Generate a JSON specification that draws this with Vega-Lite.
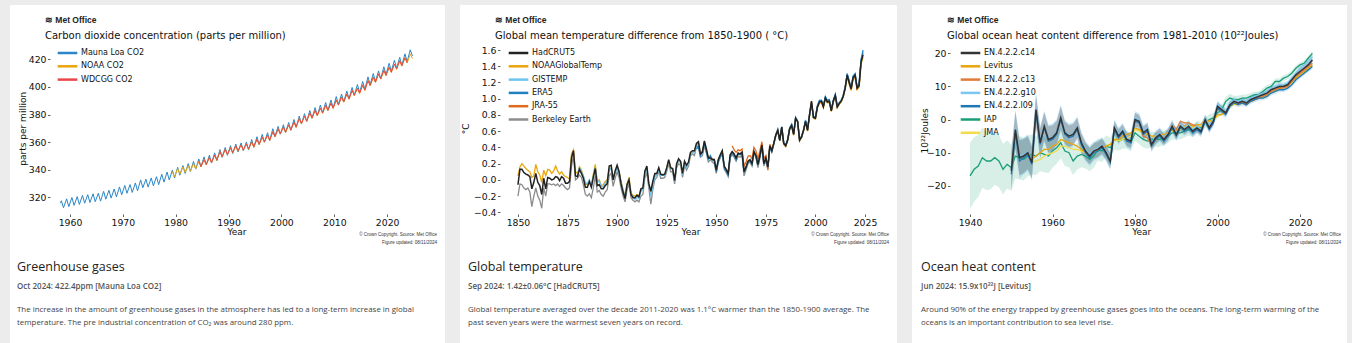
{
"$schema": "https://vega.github.io/schema/vega-lite/v6.json",
"background": "#ececec",
"padding": {"left": 10, "top": 5, "right": 5, "bottom": 0},
"bounds": "flush",
"spacing": 15,
"resolve": {"scale": {"color": "independent"}, "legend": {"color": "independent"}},
"datasets": {
"co2": [
{"x":1958.2,"M":315.7},{"x":1958.37,"M":317.5},{"x":1958.78,"M":312.4},
{"x":1959.37,"M":318.9},{"x":1959.78,"M":313.2},{"x":1960.37,"M":319.8},{"x":1960.78,"M":314.1},
{"x":1961.37,"M":320.5},{"x":1961.78,"M":314.8},{"x":1962.37,"M":321.4},{"x":1962.78,"M":315.7},
{"x":1963.37,"M":321.9},{"x":1963.78,"M":316.2},{"x":1964.37,"M":322.5},{"x":1964.78,"M":316.8},
{"x":1965.37,"M":322.9},{"x":1965.78,"M":317.2},{"x":1966.37,"M":324.3},{"x":1966.78,"M":318.6},
{"x":1967.37,"M":325.1},{"x":1967.78,"M":319.4},{"x":1968.37,"M":326.0},{"x":1968.78,"M":320.3},
{"x":1969.37,"M":327.5},{"x":1969.78,"M":321.8},{"x":1970.37,"M":328.6},{"x":1970.78,"M":322.9},
{"x":1971.37,"M":329.2},{"x":1971.78,"M":323.5},{"x":1972.37,"M":330.4},{"x":1972.78,"M":324.7},
{"x":1973.37,"M":332.6},{"x":1973.78,"M":326.9},{"x":1974.37,"M":333.1},{"x":1974.78,"M":327.4},
{"x":1975.37,"M":334.0},{"x":1975.78,"M":328.3},{"x":1976.37,"M":334.9},{"x":1976.78,"M":329.2},
{"x":1977.37,"M":336.7},{"x":1977.78,"M":331.0},{"x":1978.37,"M":338.3},{"x":1978.78,"M":332.6},
{"x":1979.37,"M":339.7,"N":338.7},{"x":1979.78,"M":334.0,"N":334.8},
{"x":1980.37,"M":341.7,"N":340.8},{"x":1980.78,"M":336.0,"N":336.9},
{"x":1981.37,"M":343.0,"N":342.0},{"x":1981.78,"M":337.3,"N":338.1},
{"x":1982.37,"M":344.4,"N":342.8},{"x":1982.78,"M":338.7,"N":338.9},
{"x":1983.37,"M":346.0,"N":344.4},{"x":1983.78,"M":340.4,"N":340.5},
{"x":1984.37,"M":347.8,"N":346.0,"W":345.9},{"x":1984.78,"M":342.1,"N":342.1,"W":342.4},
{"x":1985.37,"M":349.3,"N":347.4,"W":347.3},{"x":1985.78,"M":343.6,"N":343.5,"W":343.8},
{"x":1986.37,"M":350.5,"N":348.9,"W":348.8},{"x":1986.78,"M":344.8,"N":345.0,"W":345.3},
{"x":1987.37,"M":352.2,"N":350.6,"W":350.5},{"x":1987.78,"M":346.5,"N":346.7,"W":347.0},
{"x":1988.37,"M":354.6,"N":353.1,"W":353.0},{"x":1988.78,"M":348.9,"N":349.2,"W":349.5},
{"x":1989.37,"M":356.1,"N":354.7,"W":354.6},{"x":1989.78,"M":350.4,"N":350.8,"W":351.1},
{"x":1990.37,"M":357.4,"N":356.0,"W":355.9},{"x":1990.78,"M":351.7,"N":352.1,"W":352.4},
{"x":1991.37,"M":358.6,"N":357.3,"W":357.2},{"x":1991.78,"M":352.9,"N":353.4,"W":353.7},
{"x":1992.37,"M":359.4,"N":358.0,"W":357.9},{"x":1992.78,"M":353.7,"N":354.1,"W":354.4},
{"x":1993.37,"M":360.1,"N":358.7,"W":358.6},{"x":1993.78,"M":354.4,"N":354.8,"W":355.1},
{"x":1994.37,"M":361.9,"N":360.2,"W":360.1},{"x":1994.78,"M":356.2,"N":356.3,"W":356.6},
{"x":1995.37,"M":363.9,"N":362.1,"W":362.0},{"x":1995.78,"M":358.2,"N":358.2,"W":358.5},
{"x":1996.37,"M":365.6,"N":363.8,"W":363.7},{"x":1996.78,"M":359.9,"N":359.9,"W":360.2},
{"x":1997.37,"M":366.8,"N":365.0,"W":364.9},{"x":1997.78,"M":361.1,"N":361.1,"W":361.4},
{"x":1998.37,"M":369.7,"N":367.6,"W":367.5},{"x":1998.78,"M":364.0,"N":363.7,"W":364.0},
{"x":1999.37,"M":371.4,"N":369.7,"W":369.6},{"x":1999.78,"M":365.7,"N":365.8,"W":366.1},
{"x":2000.37,"M":372.6,"N":370.9,"W":370.8},{"x":2000.78,"M":366.9,"N":367.0,"W":367.3},
{"x":2001.37,"M":374.2,"N":372.5,"W":372.4},{"x":2001.78,"M":368.5,"N":368.6,"W":368.9},
{"x":2002.37,"M":376.4,"N":374.5,"W":374.4},{"x":2002.78,"M":370.7,"N":370.6,"W":370.9},
{"x":2003.37,"M":378.9,"N":377.1,"W":377.0},{"x":2003.78,"M":373.2,"N":373.2,"W":373.5},
{"x":2004.37,"M":380.6,"N":378.9,"W":378.8},{"x":2004.78,"M":374.9,"N":375.0,"W":375.3},
{"x":2005.37,"M":382.9,"N":381.2,"W":381.1},{"x":2005.78,"M":377.2,"N":377.3,"W":377.6},
{"x":2006.37,"M":385.0,"N":383.0,"W":382.9},{"x":2006.78,"M":379.3,"N":379.1,"W":379.4},
{"x":2007.37,"M":386.9,"N":384.7,"W":384.6},{"x":2007.78,"M":381.2,"N":380.8,"W":381.1},
{"x":2008.37,"M":388.7,"N":386.7,"W":386.6},{"x":2008.78,"M":383.0,"N":382.8,"W":383.1},
{"x":2009.37,"M":390.5,"N":388.2,"W":388.1},{"x":2009.78,"M":384.8,"N":384.3,"W":384.6},
{"x":2010.37,"M":393.0,"N":390.6,"W":390.5},{"x":2010.78,"M":387.3,"N":386.7,"W":387.0},
{"x":2011.37,"M":394.8,"N":392.8,"W":392.7},{"x":2011.78,"M":389.1,"N":388.9,"W":389.2},
{"x":2012.37,"M":397.0,"N":394.9,"W":394.8},{"x":2012.78,"M":391.3,"N":391.0,"W":391.3},
{"x":2013.37,"M":399.6,"N":397.6,"W":397.5},{"x":2013.78,"M":393.9,"N":393.7,"W":394.0},
{"x":2014.37,"M":401.7,"N":399.1,"W":399.0},{"x":2014.78,"M":396.0,"N":395.2,"W":395.5},
{"x":2015.37,"M":403.9,"N":401.3,"W":401.2},{"x":2015.78,"M":398.2,"N":397.4,"W":397.7},
{"x":2016.37,"M":407.3,"N":404.7,"W":404.6},{"x":2016.78,"M":401.6,"N":400.8,"W":401.1},
{"x":2017.37,"M":409.7,"N":407.1,"W":407.0},{"x":2017.78,"M":404.0,"N":403.2,"W":403.5},
{"x":2018.37,"M":411.6,"N":409.5,"W":409.4},{"x":2018.78,"M":405.9,"N":405.6,"W":405.9},
{"x":2019.37,"M":414.6,"N":412.0,"W":411.9},{"x":2019.78,"M":408.9,"N":408.1,"W":408.4},
{"x":2020.37,"M":417.1,"N":414.3,"W":414.2},{"x":2020.78,"M":411.4,"N":410.4,"W":410.7},
{"x":2021.37,"M":419.3,"N":416.6,"W":416.5},{"x":2021.78,"M":413.6,"N":412.7,"W":413.0},
{"x":2022.37,"M":421.4,"N":419.0,"W":418.9},{"x":2022.78,"M":415.7,"N":415.1,"W":415.4},
{"x":2023.37,"M":424.0,"N":421.2,"W":421.1},{"x":2023.78,"M":418.3,"N":417.3,"W":417.6},
{"x":2024.37,"M":426.9,"N":423.9},{"x":2024.78,"M":422.4,"N":420.5}
],
"temp": [
{"x":1850,"H":-0.06,"N":0.05,"B":-0.2},{"x":1851,"H":0.13,"N":0.16,"B":-0.05},{"x":1852,"H":0.13,"N":0.2,"B":-0.06},
{"x":1853,"H":0.09,"N":0.17,"B":-0.1},{"x":1854,"H":0.07,"N":0.14,"B":-0.12},{"x":1855,"H":0.06,"N":0.12,"B":-0.1},
{"x":1856,"H":0.04,"N":0.1,"B":-0.15},{"x":1857,"H":-0.11,"N":0.03,"B":-0.33},{"x":1858,"H":-0.03,"N":0.05,"B":-0.2},
{"x":1859,"H":0.08,"N":0.19,"B":-0.1},{"x":1860,"H":-0.03,"N":0.1,"B":-0.2},{"x":1861,"H":-0.07,"N":0.06,"B":-0.25},
{"x":1862,"H":-0.18,"N":-0.03,"B":-0.35},{"x":1863,"H":0.02,"N":0.12,"B":-0.1},{"x":1864,"H":-0.11,"N":0.05,"B":-0.2},
{"x":1865,"H":0.03,"N":0.13,"B":-0.05},{"x":1866,"H":0.02,"N":0.12,"B":-0.05},{"x":1867,"H":0.0,"N":0.08,"B":-0.06},
{"x":1868,"H":0.01,"N":0.11,"B":-0.05},{"x":1869,"H":0.04,"N":0.17,"B":-0.07},{"x":1870,"H":0.03,"N":0.11,"B":-0.05},
{"x":1871,"H":-0.01,"N":0.07,"B":-0.08},{"x":1872,"H":0.04,"N":0.1,"B":-0.05},{"x":1873,"H":0.02,"N":0.06,"B":-0.07},
{"x":1874,"H":-0.04,"N":0.04,"B":-0.1},{"x":1875,"H":-0.04,"N":0.03,"B":-0.12},{"x":1876,"H":-0.02,"N":0.01,"B":-0.1},
{"x":1877,"H":0.27,"N":0.32,"B":0.17},{"x":1878,"H":0.36,"N":0.37,"B":0.3},{"x":1879,"H":0.05,"N":0.1,"B":0.0},
{"x":1880,"H":0.04,"N":0.08,"G":0.06,"B":0.02},{"x":1881,"H":0.13,"N":0.16,"G":0.15,"B":0.06},
{"x":1882,"H":0.08,"N":0.12,"G":0.1,"B":0.03},{"x":1883,"H":0.02,"N":0.04,"G":0.05,"B":-0.06},
{"x":1884,"H":-0.09,"N":-0.05,"G":-0.03,"B":-0.18},{"x":1885,"H":-0.09,"N":-0.06,"G":-0.05,"B":-0.2},
{"x":1886,"H":-0.02,"N":-0.01,"G":0.0,"B":-0.17},{"x":1887,"H":-0.09,"N":-0.06,"G":-0.08,"B":-0.22},
{"x":1888,"H":0.03,"N":0.07,"G":0.05,"B":-0.1},{"x":1889,"H":0.14,"N":0.19,"G":0.15,"B":0.05},
{"x":1890,"H":-0.07,"N":-0.02,"G":-0.03,"B":-0.15},{"x":1891,"H":-0.06,"N":0.0,"G":-0.01,"B":-0.13},
{"x":1892,"H":-0.11,"N":-0.07,"G":-0.08,"B":-0.18},{"x":1893,"H":-0.11,"N":-0.06,"G":-0.09,"B":-0.2},
{"x":1894,"H":-0.07,"N":-0.02,"G":-0.04,"B":-0.15},{"x":1895,"H":-0.05,"N":0.0,"G":-0.02,"B":-0.12},
{"x":1896,"H":0.17,"N":0.12,"G":0.12,"B":0.05},{"x":1897,"H":0.18,"N":0.15,"G":0.14,"B":0.08},
{"x":1898,"H":0.0,"N":0.02,"G":0.01,"B":-0.08},{"x":1899,"H":0.11,"N":0.09,"G":0.08,"B":0.02},
{"x":1900,"H":0.18,"N":0.16,"G":0.14,"B":0.1},{"x":1901,"H":0.1,"N":0.1,"G":0.08,"B":0.03},
{"x":1902,"H":-0.05,"N":-0.02,"G":-0.03,"B":-0.1},{"x":1903,"H":-0.15,"N":-0.12,"G":-0.13,"B":-0.2},
{"x":1904,"H":-0.23,"N":-0.2,"G":-0.21,"B":-0.27},{"x":1905,"H":-0.06,"N":-0.05,"G":-0.06,"B":-0.12},
{"x":1906,"H":0.0,"N":0.03,"G":0.0,"B":-0.05},{"x":1907,"H":-0.18,"N":-0.16,"G":-0.18,"B":-0.22},
{"x":1908,"H":-0.22,"N":-0.19,"G":-0.2,"B":-0.25},{"x":1909,"H":-0.22,"N":-0.2,"G":-0.24,"B":-0.27},
{"x":1910,"H":-0.19,"N":-0.18,"G":-0.22,"B":-0.25},{"x":1911,"H":-0.21,"N":-0.2,"G":-0.23,"B":-0.27},
{"x":1912,"H":-0.11,"N":-0.12,"G":-0.14,"B":-0.2},{"x":1913,"H":-0.1,"N":-0.11,"G":-0.12,"B":-0.18},
{"x":1914,"H":0.11,"N":0.08,"G":0.07,"B":0.03},{"x":1915,"H":0.17,"N":0.14,"G":0.12,"B":0.08},
{"x":1916,"H":-0.05,"N":-0.06,"G":-0.06,"B":-0.1},{"x":1917,"H":-0.14,"N":-0.15,"G":-0.2,"B":-0.3},
{"x":1918,"H":-0.02,"N":-0.04,"G":-0.08,"B":-0.12},{"x":1919,"H":0.08,"N":0.06,"G":0.04,"B":0.0},
{"x":1920,"H":0.08,"N":0.07,"G":0.06,"B":0.03},{"x":1921,"H":0.15,"N":0.13,"G":0.12,"B":0.1},
{"x":1922,"H":0.07,"N":0.06,"G":0.05,"B":0.02},{"x":1923,"H":0.06,"N":0.06,"G":0.07,"B":0.02},
{"x":1924,"H":0.07,"N":0.05,"G":0.05,"B":0.03},{"x":1925,"H":0.15,"N":0.13,"G":0.13,"B":0.1},
{"x":1926,"H":0.25,"N":0.22,"G":0.24,"B":0.2},{"x":1927,"H":0.15,"N":0.14,"G":0.14,"B":0.1},
{"x":1928,"H":0.14,"N":0.13,"G":0.13,"B":0.1},{"x":1929,"H":-0.01,"N":0.0,"G":-0.02,"B":-0.05},
{"x":1930,"H":0.2,"N":0.18,"G":0.18,"B":0.15},{"x":1931,"H":0.26,"N":0.24,"G":0.24,"B":0.2},
{"x":1932,"H":0.23,"N":0.22,"G":0.21,"B":0.18},{"x":1933,"H":0.08,"N":0.07,"G":0.06,"B":0.03},
{"x":1934,"H":0.23,"N":0.21,"G":0.21,"B":0.18},{"x":1935,"H":0.18,"N":0.17,"G":0.15,"B":0.12},
{"x":1936,"H":0.22,"N":0.2,"G":0.2,"B":0.17},{"x":1937,"H":0.34,"N":0.32,"G":0.32,"B":0.3},
{"x":1938,"H":0.36,"N":0.34,"G":0.33,"B":0.32},{"x":1939,"H":0.36,"N":0.35,"G":0.34,"B":0.3},
{"x":1940,"H":0.45,"N":0.43,"G":0.42,"E":0.38,"B":0.42},{"x":1941,"H":0.47,"N":0.46,"G":0.44,"E":0.41,"B":0.4},
{"x":1942,"H":0.32,"N":0.32,"G":0.3,"E":0.3,"B":0.28},{"x":1943,"H":0.34,"N":0.35,"G":0.33,"E":0.36,"B":0.3},
{"x":1944,"H":0.48,"N":0.47,"G":0.45,"E":0.45,"B":0.42},{"x":1945,"H":0.38,"N":0.37,"G":0.36,"E":0.35,"B":0.33},
{"x":1946,"H":0.27,"N":0.27,"G":0.25,"E":0.26,"B":0.22},{"x":1947,"H":0.27,"N":0.28,"G":0.28,"E":0.3,"B":0.25},
{"x":1948,"H":0.25,"N":0.26,"G":0.24,"E":0.25,"B":0.22},{"x":1949,"H":0.25,"N":0.25,"G":0.23,"E":0.24,"B":0.2},
{"x":1950,"H":0.12,"N":0.11,"G":0.11,"E":0.1,"B":0.08},{"x":1951,"H":0.25,"N":0.24,"G":0.24,"E":0.24,"B":0.21},
{"x":1952,"H":0.31,"N":0.3,"G":0.3,"E":0.29,"B":0.27},{"x":1953,"H":0.36,"N":0.35,"G":0.35,"E":0.34,"B":0.32},
{"x":1954,"H":0.17,"N":0.16,"G":0.16,"E":0.15,"B":0.13},{"x":1955,"H":0.13,"N":0.12,"G":0.12,"E":0.11,"B":0.09},
{"x":1956,"H":0.08,"N":0.08,"G":0.07,"E":0.06,"B":0.04},{"x":1957,"H":0.31,"N":0.3,"G":0.3,"E":0.29,"B":0.27},
{"x":1958,"H":0.35,"N":0.34,"G":0.34,"E":0.33,"J":0.42,"B":0.31},{"x":1959,"H":0.32,"N":0.31,"G":0.31,"E":0.3,"J":0.37,"B":0.28},
{"x":1960,"H":0.27,"N":0.26,"G":0.26,"E":0.25,"J":0.34,"B":0.23},{"x":1961,"H":0.33,"N":0.32,"G":0.32,"E":0.32,"J":0.37,"B":0.29},
{"x":1962,"H":0.32,"N":0.31,"G":0.31,"E":0.31,"J":0.36,"B":0.28},{"x":1963,"H":0.34,"N":0.34,"G":0.33,"E":0.33,"J":0.38,"B":0.3},
{"x":1964,"H":0.1,"N":0.1,"G":0.09,"E":0.09,"J":0.17,"B":0.05},{"x":1965,"H":0.16,"N":0.15,"G":0.15,"E":0.15,"J":0.22,"B":0.12},
{"x":1966,"H":0.23,"N":0.22,"G":0.22,"E":0.22,"J":0.29,"B":0.2},{"x":1967,"H":0.25,"N":0.24,"G":0.24,"E":0.24,"J":0.3,"B":0.22},
{"x":1968,"H":0.2,"N":0.19,"G":0.19,"E":0.19,"J":0.26,"B":0.17},{"x":1969,"H":0.35,"N":0.34,"G":0.34,"E":0.34,"J":0.4,"B":0.33},
{"x":1970,"H":0.3,"N":0.29,"G":0.29,"E":0.29,"J":0.36,"B":0.27},{"x":1971,"H":0.19,"N":0.18,"G":0.18,"E":0.18,"J":0.26,"B":0.15},
{"x":1972,"H":0.3,"N":0.29,"G":0.29,"E":0.29,"J":0.36,"B":0.27},{"x":1973,"H":0.43,"N":0.42,"G":0.42,"E":0.42,"J":0.47,"B":0.41},
{"x":1974,"H":0.2,"N":0.19,"G":0.19,"E":0.19,"J":0.26,"B":0.17},{"x":1975,"H":0.27,"N":0.26,"G":0.26,"E":0.26,"J":0.3,"B":0.24},
{"x":1976,"H":0.16,"N":0.15,"G":0.15,"E":0.15,"J":0.12,"B":0.13},{"x":1977,"H":0.42,"N":0.41,"G":0.41,"E":0.41,"J":0.44,"B":0.4},
{"x":1978,"H":0.36,"N":0.35,"G":0.35,"E":0.35,"J":0.37,"B":0.34},{"x":1979,"H":0.45,"N":0.44,"G":0.44,"E":0.45,"J":0.46,"B":0.44},
{"x":1980,"H":0.55,"N":0.54,"G":0.56,"E":0.56,"J":0.55,"B":0.55},{"x":1981,"H":0.61,"N":0.6,"G":0.63,"E":0.6,"J":0.61,"B":0.62},
{"x":1982,"H":0.49,"N":0.48,"G":0.49,"E":0.48,"J":0.49,"B":0.48},{"x":1983,"H":0.65,"N":0.64,"G":0.66,"E":0.65,"J":0.65,"B":0.65},
{"x":1984,"H":0.45,"N":0.44,"G":0.46,"E":0.46,"J":0.45,"B":0.45},{"x":1985,"H":0.42,"N":0.41,"G":0.42,"E":0.43,"J":0.42,"B":0.42},
{"x":1986,"H":0.49,"N":0.48,"G":0.5,"E":0.5,"J":0.49,"B":0.49},{"x":1987,"H":0.63,"N":0.62,"G":0.64,"E":0.64,"J":0.63,"B":0.64},
{"x":1988,"H":0.67,"N":0.66,"G":0.69,"E":0.68,"J":0.67,"B":0.68},{"x":1989,"H":0.56,"N":0.55,"G":0.57,"E":0.57,"J":0.56,"B":0.57},
{"x":1990,"H":0.76,"N":0.75,"G":0.77,"E":0.76,"J":0.76,"B":0.77},{"x":1991,"H":0.72,"N":0.71,"G":0.73,"E":0.72,"J":0.72,"B":0.72},
{"x":1992,"H":0.49,"N":0.48,"G":0.5,"E":0.49,"J":0.5,"B":0.5},{"x":1993,"H":0.53,"N":0.52,"G":0.54,"E":0.53,"J":0.53,"B":0.54},
{"x":1994,"H":0.61,"N":0.6,"G":0.62,"E":0.61,"J":0.61,"B":0.62},{"x":1995,"H":0.72,"N":0.71,"G":0.74,"E":0.73,"J":0.72,"B":0.73},
{"x":1996,"H":0.61,"N":0.6,"G":0.62,"E":0.62,"J":0.61,"B":0.62},{"x":1997,"H":0.8,"N":0.78,"G":0.8,"E":0.79,"J":0.8,"B":0.8},
{"x":1998,"H":0.97,"N":0.95,"G":0.95,"E":0.94,"J":0.96,"B":0.96},{"x":1999,"H":0.77,"N":0.76,"G":0.77,"E":0.78,"J":0.77,"B":0.77},
{"x":2000,"H":0.76,"N":0.75,"G":0.77,"E":0.78,"J":0.76,"B":0.77},{"x":2001,"H":0.9,"N":0.89,"G":0.91,"E":0.91,"J":0.9,"B":0.91},
{"x":2002,"H":0.96,"N":0.94,"G":0.98,"E":0.98,"J":0.96,"B":0.97},{"x":2003,"H":0.97,"N":0.96,"G":0.98,"E":0.98,"J":0.97,"B":0.98},
{"x":2004,"H":0.9,"N":0.89,"G":0.92,"E":0.91,"J":0.9,"B":0.91},{"x":2005,"H":1.01,"N":1.0,"G":1.03,"E":1.02,"J":1.01,"B":1.02},
{"x":2006,"H":0.96,"N":0.95,"G":0.98,"E":0.98,"J":0.96,"B":0.97},{"x":2007,"H":0.97,"N":0.95,"G":0.99,"E":0.99,"J":0.97,"B":0.98},
{"x":2008,"H":0.85,"N":0.84,"G":0.86,"E":0.87,"J":0.85,"B":0.86},{"x":2009,"H":0.97,"N":0.96,"G":0.98,"E":0.98,"J":0.97,"B":0.98},
{"x":2010,"H":1.04,"N":1.03,"G":1.05,"E":1.05,"J":1.04,"B":1.05},{"x":2011,"H":0.9,"N":0.89,"G":0.91,"E":0.91,"J":0.9,"B":0.91},
{"x":2012,"H":0.94,"N":0.93,"G":0.95,"E":0.95,"J":0.94,"B":0.95},{"x":2013,"H":0.97,"N":0.96,"G":0.98,"E":0.98,"J":0.97,"B":0.98},
{"x":2014,"H":1.03,"N":1.02,"G":1.04,"E":1.03,"J":1.03,"B":1.04},{"x":2015,"H":1.13,"N":1.12,"G":1.15,"E":1.14,"J":1.13,"B":1.15},
{"x":2016,"H":1.29,"N":1.27,"G":1.31,"E":1.31,"J":1.29,"B":1.3},{"x":2017,"H":1.2,"N":1.18,"G":1.22,"E":1.22,"J":1.2,"B":1.21},
{"x":2018,"H":1.12,"N":1.1,"G":1.13,"E":1.14,"J":1.12,"B":1.13},{"x":2019,"H":1.26,"N":1.24,"G":1.28,"E":1.28,"J":1.26,"B":1.27},
{"x":2020,"H":1.29,"N":1.26,"G":1.3,"E":1.31,"J":1.28,"B":1.3},{"x":2021,"H":1.13,"N":1.11,"G":1.14,"E":1.15,"J":1.13,"B":1.14},
{"x":2022,"H":1.16,"N":1.14,"G":1.17,"E":1.18,"J":1.16,"B":1.17},{"x":2023,"H":1.45,"N":1.43,"G":1.47,"E":1.48,"J":1.46,"B":1.48},
{"x":2024,"H":1.54,"N":1.51,"G":1.56,"E":1.6,"B":1.57}
],
"ohc": [
{"x":1940,"iap":-17,"iL":-27,"iH":-7},{"x":1941,"iap":-15,"iL":-24.7,"iH":-5.3},{"x":1942,"iap":-14,"iL":-23.4,"iH":-4.6},
{"x":1943,"iap":-11.5,"iL":-20.6,"iH":-2.4},{"x":1944,"iap":-12.5,"iL":-21.3,"iH":-3.7},{"x":1945,"iap":-12.5,"iL":-21,"iH":-4},
{"x":1946,"iap":-11.5,"iL":-19.7,"iH":-3.3},{"x":1947,"iap":-12.5,"iL":-20.4,"iH":-4.6},{"x":1948,"iap":-15,"iL":-22.6,"iH":-7.4},
{"x":1949,"iap":-13.5,"iL":-20.8,"iH":-6.2},
{"x":1950,"iap":-14.5,"iL":-21.5,"iH":-7.5,"c14":-15.5,"eL":-21,"eH":-10,"bL":-22,"bH":-9.5,"l09":-16.5,"g10":-15,"c13":-15},
{"x":1951,"iap":-11,"iL":-17.8,"iH":-4.2,"c14":-3,"eL":-8.5,"eH":2.5,"bL":-9.5,"bH":3,"l09":-4,"g10":-2.5,"c13":-3.5},
{"x":1952,"iap":-11.5,"iL":-18.1,"iH":-4.9,"c14":-11.5,"eL":-16.8,"eH":-6.2,"bL":-17.8,"bH":-5.7,"l09":-12.5,"g10":-11,"c13":-11},
{"x":1953,"iap":-12,"iL":-18.4,"iH":-5.6,"c14":-11,"eL":-16.1,"eH":-5.9,"bL":-16.6,"bH":-5.4,"l09":-11.5,"g10":-10.5,"c13":-10.5},
{"x":1954,"iap":-11,"iL":-17.2,"iH":-4.8,"c14":-10,"eL":-15,"eH":-5,"bL":-15.5,"bH":-4.5,"l09":-10.5,"g10":-9.5,"c13":-9.5},
{"x":1955,"iap":-10.5,"iL":-16.5,"iH":-4.5,"c14":-13,"eL":-17.8,"eH":-8.2,"bL":-18.3,"bH":-7.7,"l09":-13.5,"g10":-12.5,"c13":-12.5,"lev":-12,"jma":-13},
{"x":1956,"iap":-11,"iL":-16.8,"iH":-5.2,"c14":3,"eL":-1.6,"eH":7.6,"bL":-2.6,"bH":8.1,"l09":2,"g10":3.5,"c13":2.5,"lev":-11,"jma":-12.5},
{"x":1957,"iap":-10,"iL":-15.6,"iH":-4.4,"c14":-7,"eL":-11.4,"eH":-2.6,"bL":-11.9,"bH":-2.1,"l09":-7.5,"g10":-6.5,"c13":-6.5,"lev":-10,"jma":-12},
{"x":1958,"iap":-10.5,"iL":-15.9,"iH":-5.1,"c14":-2,"eL":-6.2,"eH":2.2,"bL":-6.7,"bH":2.7,"l09":-2.5,"g10":-1.5,"c13":-1.5,"lev":-9,"jma":-11},
{"x":1959,"iap":-11,"iL":-16.2,"iH":-5.8,"c14":-6,"eL":-10,"eH":-2,"bL":-10.5,"bH":-1.5,"l09":-6.5,"g10":-5.5,"c13":-5.5,"lev":-9,"jma":-10.5},
{"x":1960,"iap":-9.5,"iL":-14.5,"iH":-4.5,"c14":-5.5,"eL":-9.3,"eH":-1.7,"bL":-9.8,"bH":-1.2,"l09":-6,"g10":-5,"c13":-5,"lev":-8,"jma":-10},
{"x":1961,"iap":-8.5,"iL":-13.3,"iH":-3.7,"c14":-4,"eL":-7.6,"eH":-0.4,"bL":-8.1,"bH":0.1,"l09":-4.5,"g10":-3.5,"c13":-3.5,"lev":-7.5,"jma":-9.5},
{"x":1962,"iap":-7,"iL":-11.7,"iH":-2.3,"c14":0.5,"eL":-3,"eH":4,"bL":-3.5,"bH":4.5,"l09":0,"g10":1,"c13":1,"lev":-6,"jma":-8},
{"x":1963,"iap":-9.5,"iL":-14,"iH":-5,"c14":-4,"eL":-7.4,"eH":-0.6,"bL":-7.9,"bH":-0.1,"l09":-4.5,"g10":-3.5,"c13":-3.5,"lev":-6.5,"jma":-8},
{"x":1964,"iap":-10,"iL":-14.4,"iH":-5.6,"c14":-5,"eL":-8.3,"eH":-1.7,"bL":-8.8,"bH":-1.2,"l09":-5.5,"g10":-4.5,"c13":-4.5,"lev":-7,"jma":-8.5},
{"x":1965,"iap":-12.5,"iL":-16.7,"iH":-8.3,"c14":-4.5,"eL":-7.7,"eH":-1.3,"bL":-8.2,"bH":-0.8,"l09":-5,"g10":-4,"c13":-4,"lev":-7.5,"jma":-9},
{"x":1966,"iap":-11,"iL":-15.1,"iH":-6.9,"c14":-2.5,"eL":-5.5,"eH":0.5,"bL":-6,"bH":1,"l09":-3,"g10":-2,"c13":-2,"lev":-8,"jma":-9},
{"x":1967,"iap":-10.5,"iL":-14.4,"iH":-6.6,"c14":-7,"eL":-9.8,"eH":-4.2,"bL":-10.3,"bH":-3.7,"l09":-7.5,"g10":-6.5,"c13":-6.5,"lev":-9,"jma":-9.5},
{"x":1968,"iap":-11,"iL":-14.8,"iH":-7.2,"c14":-9.5,"eL":-12.1,"eH":-6.9,"bL":-12.6,"bH":-6.4,"l09":-10,"g10":-9,"c13":-9.5,"lev":-10,"jma":-10},
{"x":1969,"iap":-12,"iL":-15.6,"iH":-8.4,"c14":-11,"eL":-13.5,"eH":-8.5,"bL":-14,"bH":-8,"l09":-11.5,"g10":-10.5,"c13":-11,"lev":-11,"jma":-10.5},
{"x":1970,"iap":-11,"iL":-14.5,"iH":-7.5,"c14":-9.5,"eL":-11.9,"eH":-7.1,"bL":-12.4,"bH":-6.6,"l09":-10,"g10":-9,"c13":-9,"lev":-10,"jma":-10},
{"x":1971,"iap":-9,"iL":-12.4,"iH":-5.6,"c14":-9,"eL":-11.3,"eH":-6.7,"bL":-11.8,"bH":-6.2,"l09":-9.5,"g10":-8.5,"c13":-8.5,"lev":-9,"jma":-9},
{"x":1972,"iap":-9.5,"iL":-12.8,"iH":-6.2,"c14":-8,"eL":-10.3,"eH":-5.7,"bL":-10.8,"bH":-5.2,"l09":-8.5,"g10":-7.5,"c13":-7.5,"lev":-8.5,"jma":-8.5},
{"x":1973,"iap":-8,"iL":-11.2,"iH":-4.8,"c14":-10,"eL":-12.2,"eH":-7.8,"bL":-12.7,"bH":-7.3,"l09":-10.5,"g10":-9.5,"c13":-9.5,"lev":-8,"jma":-8},
{"x":1974,"iap":-8.5,"iL":-11.6,"iH":-5.4,"c14":-12.5,"eL":-14.7,"eH":-10.3,"bL":-15.2,"bH":-9.8,"l09":-13,"g10":-12,"c13":-12,"lev":-7.5,"jma":-7.5},
{"x":1975,"iap":-6,"iL":-9,"iH":-3,"c14":-2.5,"eL":-4.6,"eH":-0.4,"bL":-5.1,"bH":0.1,"l09":-3,"g10":-2,"c13":-2.5,"lev":-6,"jma":-6},
{"x":1976,"iap":-6.5,"iL":-9.4,"iH":-3.6,"c14":-5,"eL":-7.1,"eH":-2.9,"bL":-7.6,"bH":-2.4,"l09":-5.5,"g10":-4.5,"c13":-5,"lev":-6,"jma":-6.5},
{"x":1977,"iap":-6,"iL":-8.8,"iH":-3.2,"c14":-3.5,"eL":-5.5,"eH":-1.5,"bL":-6,"bH":-1,"l09":-4,"g10":-3,"c13":-3.5,"lev":-5,"jma":-6},
{"x":1978,"iap":-6,"iL":-8.7,"iH":-3.3,"c14":-6,"eL":-8,"eH":-4,"bL":-8.5,"bH":-3.5,"l09":-6.5,"g10":-5.5,"c13":-6,"lev":-4.5,"jma":-5.5},
{"x":1979,"iap":-7,"iL":-9.6,"iH":-4.4,"c14":-6.5,"eL":-8.5,"eH":-4.5,"bL":-9,"bH":-4,"l09":-7,"g10":-6,"c13":-6.5,"lev":-4,"jma":-5},
{"x":1980,"iap":-4,"iL":-6.5,"iH":-1.5,"c14":0,"eL":-2,"eH":2,"bL":-2.5,"bH":2.5,"l09":-0.5,"g10":0.5,"c13":0,"lev":-2.5,"jma":-3},
{"x":1981,"iap":-5,"iL":-7.4,"iH":-2.6,"c14":-0.5,"eL":-2.4,"eH":1.4,"bL":-2.9,"bH":1.9,"l09":-1,"g10":0,"c13":-1,"lev":-3,"jma":-3.5},
{"x":1982,"iap":-6,"iL":-8.4,"iH":-3.6,"c14":-4,"eL":-5.9,"eH":-2.1,"bL":-6.4,"bH":-1.6,"l09":-4.5,"g10":-3.5,"c13":-5,"lev":-4,"jma":-4},
{"x":1983,"iap":-6.5,"iL":-8.8,"iH":-4.2,"c14":-3,"eL":-4.8,"eH":-1.2,"bL":-5.3,"bH":-0.7,"l09":-3.5,"g10":-2.5,"c13":-5.5,"lev":-4.5,"jma":-4.5},
{"x":1984,"iap":-6,"iL":-8.3,"iH":-3.7,"c14":-7.5,"eL":-9.3,"eH":-5.7,"bL":-9.8,"bH":-5.2,"l09":-8,"g10":-7,"c13":-8,"lev":-5,"jma":-5},
{"x":1985,"iap":-6,"iL":-8.2,"iH":-3.8,"c14":-5.5,"eL":-7.2,"eH":-3.8,"bL":-7.7,"bH":-3.3,"l09":-6,"g10":-5,"c13":-6,"lev":-5,"jma":-5.5},
{"x":1986,"iap":-6,"iL":-8.2,"iH":-3.8,"c14":-4.5,"eL":-6.2,"eH":-2.8,"bL":-6.7,"bH":-2.3,"l09":-5,"g10":-4,"c13":-4.5,"lev":-4.5,"jma":-5},
{"x":1987,"iap":-5.5,"iL":-7.6,"iH":-3.4,"c14":-6,"eL":-7.6,"eH":-4.4,"bL":-8.1,"bH":-3.9,"l09":-6.5,"g10":-5.5,"c13":-5.5,"lev":-4.5,"jma":-4.5},
{"x":1988,"iap":-5,"iL":-7.1,"iH":-2.9,"c14":-4.5,"eL":-6.1,"eH":-2.9,"bL":-6.6,"bH":-2.4,"l09":-5,"g10":-4,"c13":-4,"lev":-4,"jma":-4},
{"x":1989,"iap":-4,"iL":-6,"iH":-2,"c14":-2,"eL":-3.5,"eH":-0.5,"bL":-4,"bH":0,"l09":-2.5,"g10":-1.5,"c13":-1.5,"lev":-3,"jma":-3.5},
{"x":1990,"iap":-4,"iL":-6,"iH":-2,"c14":-4.5,"eL":-6,"eH":-3,"bL":-6.5,"bH":-2.5,"l09":-5,"g10":-4,"c13":-3,"lev":-3.5,"jma":-3.5},
{"x":1991,"iap":-4,"iL":-5.9,"iH":-2.1,"c14":-2,"eL":-3.4,"eH":-0.6,"bL":-3.9,"bH":-0.1,"l09":-2.5,"g10":-1.5,"c13":-0.5,"lev":-2.5,"jma":-3},
{"x":1992,"iap":-3.5,"iL":-5.4,"iH":-1.6,"c14":-3,"eL":-4.4,"eH":-1.6,"bL":-4.9,"bH":-1.1,"l09":-3.5,"g10":-2.5,"c13":-1,"lev":-2,"jma":-2.5},
{"x":1993,"iap":-3,"iL":-4.8,"iH":-1.2,"c14":-2,"eL":-3.4,"eH":-0.6,"bL":-3.9,"bH":-0.1,"l09":-2.5,"g10":-1.5,"c13":-1,"lev":-1.5,"jma":-2},
{"x":1994,"iap":-3.5,"iL":-5.3,"iH":-1.7,"c14":-3.5,"eL":-4.8,"eH":-2.2,"bL":-5.3,"bH":-1.7,"l09":-4,"g10":-3,"c13":-1.5,"lev":-2,"jma":-2.5},
{"x":1995,"iap":-2,"iL":-3.7,"iH":-0.3,"c14":-2.5,"eL":-3.8,"eH":-1.2,"bL":-4.3,"bH":-0.7,"l09":-3,"g10":-2,"c13":-2,"lev":-1.5,"jma":-2},
{"x":1996,"iap":-2.5,"iL":-4.2,"iH":-0.8,"c14":-3.5,"eL":-4.8,"eH":-2.2,"bL":-5.3,"bH":-1.7,"l09":-4,"g10":-3,"c13":-3,"lev":-1.5,"jma":-2},
{"x":1997,"iap":-1,"iL":-2.6,"iH":0.6,"c14":0,"eL":-1.2,"eH":1.2,"bL":-1.7,"bH":1.7,"l09":-0.5,"g10":0.5,"c13":0,"lev":0,"jma":-1},
{"x":1998,"iap":0,"iL":-1.6,"iH":1.6,"c14":-2.5,"eL":-3.7,"eH":-1.3,"bL":-4.2,"bH":-0.8,"l09":-3,"g10":-2,"c13":-2.5,"lev":-0.5,"jma":-0.5},
{"x":1999,"iap":0.5,"iL":-1,"iH":2,"c14":-0.5,"eL":-1.7,"eH":0.7,"bL":-2.2,"bH":1.2,"l09":-1,"g10":0,"c13":-0.5,"lev":0,"jma":0},
{"x":2000,"iap":2,"iL":0.5,"iH":3.5,"c14":4,"eL":2.8,"eH":5.2,"bL":2.3,"bH":5.7,"l09":3.5,"g10":4.5,"c13":3.5,"lev":1.5,"jma":1},
{"x":2001,"iap":3,"iL":1.6,"iH":4.4,"c14":3,"eL":1.9,"eH":4.1,"bL":1.4,"bH":4.6,"l09":2.5,"g10":3.5,"c13":2.5,"lev":1.5,"jma":1.5},
{"x":2002,"iap":5.5,"iL":4.1,"iH":6.9,"c14":2,"eL":1,"eH":3,"bL":0.5,"bH":3.5,"l09":1.5,"g10":2.5,"c13":2,"lev":2.5,"jma":2.5},
{"x":2003,"iap":6.5,"iL":5.2,"iH":7.8,"c14":4.5,"eL":3.6,"eH":5.4,"bL":3.1,"bH":5.9,"l09":4,"g10":5,"c13":4,"lev":4,"jma":4},
{"x":2004,"iap":6,"iL":4.8,"iH":7.2,"c14":5.5,"eL":4.7,"eH":6.3,"bL":4.2,"bH":6.8,"l09":5,"g10":6,"c13":5,"lev":5,"jma":4.5},
{"x":2005,"iap":6,"iL":4.8,"iH":7.2,"c14":5,"eL":4.2,"eH":5.8,"bL":3.7,"bH":6.3,"l09":4.5,"g10":5.5,"c13":4.5,"lev":5,"jma":4.5},
{"x":2006,"iap":6.5,"iL":5.4,"iH":7.6,"c14":5.5,"eL":4.7,"eH":6.3,"bL":4.2,"bH":6.8,"l09":5,"g10":6,"c13":5,"lev":5.5,"jma":5},
{"x":2007,"iap":6.5,"iL":5.4,"iH":7.6,"c14":5,"eL":4.2,"eH":5.8,"bL":3.7,"bH":6.3,"l09":4.5,"g10":5.5,"c13":4.5,"lev":5,"jma":5},
{"x":2008,"iap":7,"iL":6,"iH":8,"c14":6,"eL":5.2,"eH":6.8,"bL":4.7,"bH":7.3,"l09":5.5,"g10":6.5,"c13":5.5,"lev":5.5,"jma":5.5},
{"x":2009,"iap":7.5,"iL":6.5,"iH":8.5,"c14":6.5,"eL":5.7,"eH":7.3,"bL":5.2,"bH":7.8,"l09":6,"g10":7,"c13":6,"lev":6,"jma":6},
{"x":2010,"iap":7.5,"iL":6.5,"iH":8.5,"c14":7,"eL":6.2,"eH":7.8,"bL":5.7,"bH":8.3,"l09":6.5,"g10":7.5,"c13":6.5,"lev":6.5,"jma":6.5},
{"x":2011,"iap":8.5,"iL":7.5,"iH":9.5,"c14":7.5,"eL":6.8,"eH":8.2,"bL":5.8,"bH":8.7,"l09":6.5,"g10":8,"c13":7,"lev":7,"jma":7},
{"x":2012,"iap":9.5,"iL":8.6,"iH":10.4,"c14":8,"eL":7.3,"eH":8.7,"bL":6.3,"bH":9.2,"l09":7,"g10":8.5,"c13":7.5,"lev":7.5,"jma":7.5},
{"x":2013,"iap":10,"iL":9.1,"iH":10.9,"c14":9,"eL":8.3,"eH":9.7,"bL":7.3,"bH":10.2,"l09":8,"g10":9.5,"c13":8.5,"lev":8.5,"jma":8},
{"x":2014,"iap":11.5,"iL":10.6,"iH":12.4,"c14":9.5,"eL":8.8,"eH":10.2,"bL":7.8,"bH":10.7,"l09":8.5,"g10":10,"c13":9,"lev":9,"jma":8.5},
{"x":2015,"iap":11.5,"iL":10.6,"iH":12.4,"c14":10,"eL":9.3,"eH":10.7,"bL":8.3,"bH":11.2,"l09":9,"g10":10.5,"c13":9.5,"lev":9.5,"jma":9},
{"x":2016,"iap":12.5,"iL":11.6,"iH":13.4,"c14":10,"eL":9.3,"eH":10.7,"bL":8.3,"bH":11.2,"l09":9,"g10":10.5,"c13":9.5,"lev":10,"jma":9.5},
{"x":2017,"iap":13,"iL":12.1,"iH":13.9,"c14":10.5,"eL":9.8,"eH":11.2,"bL":8.8,"bH":11.7,"l09":9.5,"g10":11,"c13":10,"lev":10.5,"jma":10},
{"x":2018,"iap":14,"iL":13.2,"iH":14.8,"c14":12,"eL":11.3,"eH":12.7,"bL":9.8,"bH":13.2,"l09":10.5,"g10":12.5,"c13":11.5,"lev":11.5,"jma":11},
{"x":2019,"iap":15.5,"iL":14.7,"iH":16.3,"c14":13.5,"eL":12.8,"eH":14.2,"bL":11.3,"bH":14.7,"l09":12,"g10":14,"c13":13,"lev":12.5,"jma":12.5},
{"x":2020,"iap":16.5,"iL":15.7,"iH":17.3,"c14":14.5,"eL":13.8,"eH":15.2,"bL":12.3,"bH":16.2,"l09":13,"g10":15.5,"c13":14,"lev":13.5,"jma":13.5},
{"x":2021,"iap":17,"iL":16.2,"iH":17.8,"c14":15.5,"eL":14.8,"eH":16.2,"bL":13.3,"bH":17.2,"l09":14,"g10":16.5,"c13":15,"lev":14.5,"jma":14.5},
{"x":2022,"iap":18.5,"iL":17.7,"iH":19.3,"c14":16.5,"eL":15.8,"eH":17.2,"bL":14.3,"bH":18.2,"l09":15,"g10":17.5,"c13":16,"lev":15.5,"jma":15.5},
{"x":2023,"iap":20,"iL":19.2,"iH":20.8,"c14":18,"eL":17.3,"eH":18.7,"bL":15.3,"bH":19.7,"l09":16,"g10":19,"c13":17,"lev":16.5,"jma":16.5}
]
},
"hconcat": [
{
"width": 435, "height": 338,
"view": {"fill": "white", "stroke": null},
"title": {"text": "≋ Met Office", "subtitle": " Carbon dioxide concentration (parts per million)", "dx": 35},
"layer": [
{"data": {"name": "co2"},
 "transform": [{"fold": ["M", "N", "W"], "as": ["s", "v"]}],
 "mark": {"type": "line", "strokeWidth": 1},
 "encoding": {
  "x": {"field": "x", "type": "quantitative", "title": "Year",
        "scale": {"domain": [1954.9, 2028.1], "range": [33, 420], "nice": false, "zero": false},
        "axis": {"values": [1960, 1970, 1980, 1990, 2000, 2010, 2020], "format": "d", "offset": -129, "titlePadding": 0.5, "labelOverlap": false}},
  "y": {"field": "v", "type": "quantitative", "title": "parts per million",
        "scale": {"domain": [307.3, 432.7], "range": [209.8, 36.8], "nice": false, "zero": false},
        "axis": {"values": [320, 340, 360, 380, 400, 420], "offset": -40, "titlePadding": 1, "labelOverlap": false}},
  "color": {"field": "s", "type": "nominal",
        "scale": {"domain": ["M", "N", "W"], "range": ["#2a86c8", "#E9A50B", "#E8474C"]},
        "legend": {"title": null, "orient": "none", "legendX": 50, "legendY": 40.5,
                   "labelExpr": "datum.label == 'M' ? 'Mauna Loa CO2' : datum.label == 'N' ? 'NOAA CO2' : 'WDCGG CO2'"}}
 }},
{"data": {"values": [{"k": "a", "t": "© Crown Copyright. Source: Met Office"}, {"k": "b", "t": "Figure updated: 08/11/2024"}]},
 "mark": {"type": "text", "align": "right", "baseline": "middle", "font": "Liberation Sans", "fontSize": 4.5, "color": "#333"},
 "encoding": {"text": {"field": "t"},
  "x": {"datum": 1, "type": "quantitative", "scale": {"domain": [0, 1], "range": [8, 427]}, "axis": null},
  "y": {"field": "k", "type": "nominal", "scale": {"domain": ["a", "b"], "range": [230, 238], "padding": 0}, "axis": null}}},
{"data": {"values": [{"k": "h", "t": "Greenhouse gases"}]},
 "mark": {"type": "text", "align": "left", "baseline": "middle", "font": "Open Sans", "fontSize": 12.5, "color": "#222"},
 "encoding": {"text": {"field": "t"},
  "x": {"datum": 0, "type": "quantitative", "scale": {"domain": [0, 1], "range": [7, 427]}, "axis": null},
  "y": {"field": "k", "type": "nominal", "scale": {"domain": ["h"], "range": [262, 262]}, "axis": null}}},
{"data": {"values": [{"k": "s", "t": "Oct 2024: 422.4ppm [Mauna Loa CO2]"}]},
 "mark": {"type": "text", "align": "left", "baseline": "middle", "font": "Open Sans", "fontSize": 8, "fontWeight": 600, "color": "#555"},
 "encoding": {"text": {"field": "t"},
  "x": {"datum": 0, "type": "quantitative", "scale": {"domain": [0, 1], "range": [7, 427]}, "axis": null},
  "y": {"field": "k", "type": "nominal", "scale": {"domain": ["s"], "range": [282, 282]}, "axis": null}}},
{"data": {"values": [{"k": "p1", "t": "The increase in the amount of greenhouse gases in the atmosphere has led to a long-term increase in global"}, {"k": "p2", "t": "temperature. The pre industrial concentration of CO₂ was around 280 ppm."}]},
 "mark": {"type": "text", "align": "left", "baseline": "middle", "font": "Open Sans", "fontSize": 7.9, "color": "#444"},
 "encoding": {"text": {"field": "t"},
  "x": {"datum": 0, "type": "quantitative", "scale": {"domain": [0, 1], "range": [7, 427]}, "axis": null},
  "y": {"field": "k", "type": "nominal", "scale": {"domain": ["p1", "p2"], "range": [305, 317.5], "padding": 0}, "axis": null}}}
],
"resolve": {"scale": {"x": "independent", "y": "independent"}}
},
{
"width": 437, "height": 338,
"view": {"fill": "white", "stroke": null},
"title": {"text": "≋ Met Office", "subtitle": " Global mean temperature difference from 1850-1900 ( °C)", "dx": 35},
"layer": [
{"data": {"name": "temp"},
 "layer": [
  {"transform": [{"fold": ["B", "N", "G", "J", "E"], "as": ["s", "v"]}],
   "mark": {"type": "line", "strokeWidth": 1.3},
   "encoding": {
    "x": {"field": "x", "type": "quantitative", "title": "Year",
          "scale": {"domain": [1841.3, 2032.7], "range": [40.7, 420.3], "nice": false, "zero": false},
          "axis": {"values": [1850, 1875, 1900, 1925, 1950, 1975, 2000, 2025], "format": "d", "offset": -129, "titlePadding": 0.5, "labelOverlap": false}},
    "y": {"field": "v", "type": "quantitative", "title": "°C",
          "scale": {"domain": [-0.45, 1.72], "range": [211.4, 35.3], "nice": false, "zero": false},
          "axis": {"values": [-0.4, -0.2, 0, 0.2, 0.4, 0.6, 0.8, 1.0, 1.2, 1.4, 1.6], "format": ".1f", "offset": -40, "titlePadding": 3, "labelOverlap": false, "labelSeparation": 0, "labelBound": false}},
    "color": {"field": "s", "type": "nominal",
          "scale": {"domain": ["H", "N", "G", "E", "J", "B"], "range": ["#222222", "#E9A50B", "#6EC4F0", "#2180C0", "#E0691C", "#8c8c8c"]},
          "legend": {"title": null, "orient": "none", "legendX": 51, "legendY": 40.5,
                     "labelExpr": "datum.label == 'H' ? 'HadCRUT5' : datum.label == 'N' ? 'NOAAGlobalTemp' : datum.label == 'G' ? 'GISTEMP' : datum.label == 'E' ? 'ERA5' : datum.label == 'J' ? 'JRA-55' : 'Berkeley Earth'"}}
   }},
  {"transform": [{"fold": ["H"], "as": ["s", "v"]}],
   "mark": {"type": "line", "strokeWidth": 1.5},
   "encoding": {
    "x": {"field": "x", "type": "quantitative", "title": "Year",
          "axis": {"values": [1850, 1875, 1900, 1925, 1950, 1975, 2000, 2025], "format": "d", "offset": -129, "titlePadding": 0.5, "labelOverlap": false}},
    "y": {"field": "v", "type": "quantitative", "title": "°C",
          "axis": {"values": [-0.4, -0.2, 0, 0.2, 0.4, 0.6, 0.8, 1.0, 1.2, 1.4, 1.6], "format": ".1f", "offset": -40, "titlePadding": 3, "labelOverlap": false, "labelSeparation": 0, "labelBound": false}},
    "color": {"field": "s", "type": "nominal"}
   }}
 ]},
{"data": {"values": [{"k": "a", "t": "© Crown Copyright. Source: Met Office"}, {"k": "b", "t": "Figure updated: 08/11/2024"}]},
 "mark": {"type": "text", "align": "right", "baseline": "middle", "font": "Liberation Sans", "fontSize": 4.5, "color": "#333"},
 "encoding": {"text": {"field": "t"},
  "x": {"datum": 1, "type": "quantitative", "scale": {"domain": [0, 1], "range": [8, 429]}, "axis": null},
  "y": {"field": "k", "type": "nominal", "scale": {"domain": ["a", "b"], "range": [230, 238], "padding": 0}, "axis": null}}},
{"data": {"values": [{"k": "h", "t": "Global temperature"}]},
 "mark": {"type": "text", "align": "left", "baseline": "middle", "font": "Open Sans", "fontSize": 12.5, "color": "#222"},
 "encoding": {"text": {"field": "t"},
  "x": {"datum": 0, "type": "quantitative", "scale": {"domain": [0, 1], "range": [8, 429]}, "axis": null},
  "y": {"field": "k", "type": "nominal", "scale": {"domain": ["h"], "range": [262, 262]}, "axis": null}}},
{"data": {"values": [{"k": "s", "t": "Sep 2024: 1.42±0.06°C [HadCRUT5]"}]},
 "mark": {"type": "text", "align": "left", "baseline": "middle", "font": "Open Sans", "fontSize": 8, "fontWeight": 600, "color": "#555"},
 "encoding": {"text": {"field": "t"},
  "x": {"datum": 0, "type": "quantitative", "scale": {"domain": [0, 1], "range": [8, 429]}, "axis": null},
  "y": {"field": "k", "type": "nominal", "scale": {"domain": ["s"], "range": [282, 282]}, "axis": null}}},
{"data": {"values": [{"k": "p1", "t": "Global temperature averaged over the decade 2011-2020 was 1.1°C warmer than the 1850-1900 average. The"}, {"k": "p2", "t": "past seven years were the warmest seven years on record."}]},
 "mark": {"type": "text", "align": "left", "baseline": "middle", "font": "Open Sans", "fontSize": 7.9, "color": "#444"},
 "encoding": {"text": {"field": "t"},
  "x": {"datum": 0, "type": "quantitative", "scale": {"domain": [0, 1], "range": [8, 429]}, "axis": null},
  "y": {"field": "k", "type": "nominal", "scale": {"domain": ["p1", "p2"], "range": [305, 317.5], "padding": 0}, "axis": null}}}
],
"resolve": {"scale": {"x": "independent", "y": "independent"}}
},
{
"width": 435, "height": 338,
"view": {"fill": "white", "stroke": null},
"title": {"text": "≋ Met Office", "subtitle": " Global ocean heat content difference from 1981-2010 (10²²Joules)", "dx": 35},
"layer": [
{"data": {"name": "ohc"},
 "layer": [
  {"mark": {"type": "area", "color": "#1a9e76", "opacity": 0.17},
   "encoding": {
    "x": {"field": "x", "type": "quantitative", "title": "Year",
          "scale": {"domain": [1935.85, 2027.15], "range": [40.9, 417.5], "nice": false, "zero": false},
          "axis": {"values": [1940, 1960, 1980, 2000, 2020], "format": "d", "offset": -129, "titlePadding": 0.5, "labelOverlap": false}},
    "y": {"field": "iL", "type": "quantitative", "title": "10²²Joules",
          "scale": {"domain": [-29.4, 22.9], "range": [212, 38.7], "nice": false, "zero": false},
          "axis": {"values": [-20, -10, 0, 10, 20], "offset": -38, "titlePadding": -3, "labelOverlap": false}},
    "y2": {"field": "iH"}
   }},
  {"mark": {"type": "area", "color": "#56B4E9", "opacity": 0.3},
   "encoding": {
    "x": {"field": "x", "type": "quantitative", "title": "Year"},
    "y": {"field": "bL", "type": "quantitative", "title": "10²²Joules"},
    "y2": {"field": "bH"}
   }},
  {"mark": {"type": "area", "color": "#444444", "opacity": 0.3},
   "encoding": {
    "x": {"field": "x", "type": "quantitative", "title": "Year"},
    "y": {"field": "eL", "type": "quantitative", "title": "10²²Joules"},
    "y2": {"field": "eH"}
   }},
  {"transform": [{"fold": ["iap", "jma", "lev", "c13", "g10", "l09"], "as": ["s", "v"]}],
   "mark": {"type": "line", "strokeWidth": 1.3},
   "encoding": {
    "x": {"field": "x", "type": "quantitative", "title": "Year"},
    "y": {"field": "v", "type": "quantitative", "title": "10²²Joules"},
    "color": {"field": "s", "type": "nominal",
          "scale": {"domain": ["c14", "lev", "c13", "g10", "l09", "iap", "jma"], "range": ["#333333", "#E9A50B", "#E07B39", "#7CC7F0", "#1f78b4", "#1a9e76", "#F2DC4C"]},
          "legend": {"title": null, "orient": "none", "legendX": 51, "legendY": 40.5,
                     "labelExpr": "datum.label == 'c14' ? 'EN.4.2.2.c14' : datum.label == 'lev' ? 'Levitus' : datum.label == 'c13' ? 'EN.4.2.2.c13' : datum.label == 'g10' ? 'EN.4.2.2.g10' : datum.label == 'l09' ? 'EN.4.2.2.l09' : datum.label == 'iap' ? 'IAP' : 'JMA'"}}
   }},
  {"transform": [{"fold": ["c14"], "as": ["s", "v"]}],
   "mark": {"type": "line", "strokeWidth": 1.5},
   "encoding": {
    "x": {"field": "x", "type": "quantitative", "title": "Year"},
    "y": {"field": "v", "type": "quantitative", "title": "10²²Joules"},
    "color": {"field": "s", "type": "nominal"}
   }}
 ]},
{"data": {"values": [{"k": "a", "t": "© Crown Copyright. Source: Met Office"}, {"k": "b", "t": "Figure updated: 08/11/2024"}]},
 "mark": {"type": "text", "align": "right", "baseline": "middle", "font": "Liberation Sans", "fontSize": 4.5, "color": "#333"},
 "encoding": {"text": {"field": "t"},
  "x": {"datum": 1, "type": "quantitative", "scale": {"domain": [0, 1], "range": [8, 429]}, "axis": null},
  "y": {"field": "k", "type": "nominal", "scale": {"domain": ["a", "b"], "range": [230, 238], "padding": 0}, "axis": null}}},
{"data": {"values": [{"k": "h", "t": "Ocean heat content"}]},
 "mark": {"type": "text", "align": "left", "baseline": "middle", "font": "Open Sans", "fontSize": 12.5, "color": "#222"},
 "encoding": {"text": {"field": "t"},
  "x": {"datum": 0, "type": "quantitative", "scale": {"domain": [0, 1], "range": [9, 429]}, "axis": null},
  "y": {"field": "k", "type": "nominal", "scale": {"domain": ["h"], "range": [262, 262]}, "axis": null}}},
{"data": {"values": [{"k": "s", "t": "Jun 2024: 15.9x10²²J [Levitus]"}]},
 "mark": {"type": "text", "align": "left", "baseline": "middle", "font": "Open Sans", "fontSize": 8, "fontWeight": 600, "color": "#555"},
 "encoding": {"text": {"field": "t"},
  "x": {"datum": 0, "type": "quantitative", "scale": {"domain": [0, 1], "range": [9, 429]}, "axis": null},
  "y": {"field": "k", "type": "nominal", "scale": {"domain": ["s"], "range": [282, 282]}, "axis": null}}},
{"data": {"values": [{"k": "p1", "t": "Around 90% of the energy trapped by greenhouse gases goes into the oceans. The long-term warming of the"}, {"k": "p2", "t": "oceans is an important contribution to sea level rise."}]},
 "mark": {"type": "text", "align": "left", "baseline": "middle", "font": "Open Sans", "fontSize": 7.9, "color": "#444"},
 "encoding": {"text": {"field": "t"},
  "x": {"datum": 0, "type": "quantitative", "scale": {"domain": [0, 1], "range": [9, 429]}, "axis": null},
  "y": {"field": "k", "type": "nominal", "scale": {"domain": ["p1", "p2"], "range": [305, 317.5], "padding": 0}, "axis": null}}}
],
"resolve": {"scale": {"x": "independent", "y": "independent"}}
}
],
"config": {
 "font": "DejaVu Sans",
 "view": {"stroke": null},
 "axis": {"domain": false, "grid": false, "labelFont": "DejaVu Sans", "labelFontSize": 9.3, "labelColor": "#111", "labelFlush": false, "labelOverlap": false, "labelPadding": 1.5, "tickColor": "#333", "tickSize": 2.5, "tickWidth": 0.8, "titleFont": "DejaVu Sans", "titleFontSize": 9, "titleFontWeight": "normal", "titleColor": "#111"},
 "legend": {"symbolType": "M-1.6,0L1.6,0", "symbolSize": 150, "symbolStrokeWidth": 2.5, "labelFont": "DejaVu Sans", "labelFontSize": 8, "labelColor": "#111", "rowPadding": 0.3, "labelOffset": 6, "padding": 0},
 "title": {"anchor": "start", "frame": "group", "offset": -36, "font": "Liberation Sans", "fontSize": 8.5, "fontWeight": "bold", "color": "#222", "subtitleFont": "DejaVu Sans", "subtitleFontSize": 10, "subtitleColor": "#111", "subtitlePadding": 7}
}
}
